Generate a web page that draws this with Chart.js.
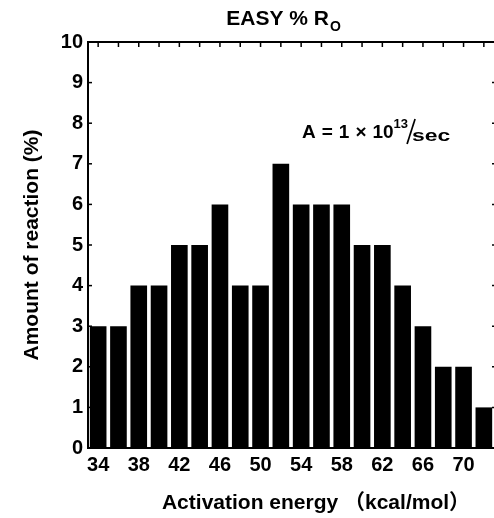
<!DOCTYPE html>
<html lang="en">
<head>
<meta charset="UTF-8">
<title>EASY %Ro</title>
<script src="https://cdn.jsdelivr.net/npm/chart.js@4.4.3/dist/chart.umd.min.js"></script>
<style>
  html, body { margin: 0; padding: 0; background: #fff; }
  #wrap { width: 494px; height: 518px; }
</style>
</head>
<body>
<div id="wrap"><canvas id="easyChart" width="494" height="518"></canvas></div>
<script>
// activation energies (kcal/mol) and the share of reaction at each one
const energies = [34, 36, 38, 40, 42, 44, 46, 48, 50, 52, 54, 56, 58, 60, 62, 64, 66, 68, 70, 72];
const reactionPct = [3, 3, 4, 4, 5, 5, 6, 4, 4, 7, 6, 6, 6, 5, 5, 4, 3, 2, 2, 1];
const yTicks = [0, 1, 2, 3, 4, 5, 6, 7, 8, 9, 10];

const FONT = "'Liberation Sans', Arial, Helvetica, 'Noto Sans CJK JP', sans-serif";

function seg(ctx, x1, y1, x2, y2) {
    ctx.beginPath();
    ctx.moveTo(x1, y1);
    ctx.lineTo(x2, y2);
    ctx.stroke();
}

// frame lines, inward ticks and the text pieces with sub/superscripts
const frameAndText = {
    id: 'frameAndText',
    afterDraw(chart) {
        const { ctx, chartArea: a, scales: { x, y } } = chart;
        ctx.save();
        ctx.strokeStyle = '#000';
        ctx.fillStyle = '#000';

        // top axis line
        ctx.lineWidth = 2;
        seg(ctx, a.left - 1, a.top, a.right, a.top);

        ctx.lineWidth = 1.5;
        // left ticks pointing into the plot
        yTicks.forEach(v => {
            const py = y.getPixelForValue(v);
            seg(ctx, a.left, py, a.left + 4, py);
        });
        // top ticks at every bar
        energies.forEach((e, i) => {
            const px = x.getPixelForValue(i);
            seg(ctx, px, a.top, px, a.top + 5);
        });
        // right-hand ticks
        yTicks.forEach(v => {
            const py = y.getPixelForValue(v);
            seg(ctx, a.right - 2, py, a.right, py);
        });

        ctx.textBaseline = 'alphabetic';
        ctx.textAlign = 'left';

        // title: EASY % R with subscript O
        ctx.font = 'bold 21px ' + FONT;
        const tMain = 'EASY % R';
        const wMain = ctx.measureText(tMain).width;
        ctx.font = 'bold 14px ' + FONT;
        const wSub = ctx.measureText('O').width;
        const tx = 283 - (wMain + wSub) / 2;
        ctx.font = 'bold 21px ' + FONT;
        ctx.fillText(tMain, tx, 25);
        ctx.font = 'bold 14px ' + FONT;
        ctx.fillText('O', tx + wMain + 1, 31);

        // rate constant note: A = 1 x 10^13 /sec
        let ax = 302;
        const base = 138;
        ctx.font = 'bold 19px ' + FONT;
        ['A', '=', '1', '\u00d7', '10'].forEach((p, i) => {
            ctx.fillText(p, ax, base);
            ax += ctx.measureText(p).width + (i < 4 ? 6 : 0);
        });
        ctx.font = 'bold 13px ' + FONT;
        ctx.fillText('13', ax, base - 10);
        ax += ctx.measureText('13').width - 3;
        ctx.lineWidth = 1.7;
        seg(ctx, ax + 10, 119, ax + 2, 144);
        ax += 7;
        ctx.font = 'bold 17px ' + FONT;
        ctx.save();
        ctx.translate(ax, base + 3);
        ctx.scale(1.35, 1);
        ctx.fillText('sec', 0, 0);
        ctx.restore();

        // x axis title
        ctx.font = 'bold 21px ' + FONT;
        ctx.textAlign = 'center';
        ctx.textBaseline = 'middle';
        ctx.fillText('Activation energy \uff08kcal/mol\uff09', 316, 503);

        ctx.restore();
    }
};

new Chart(document.getElementById('easyChart'), {
    type: 'bar',
    data: {
        labels: energies,
        datasets: [{
            data: reactionPct,
            backgroundColor: '#000',
            borderWidth: 0,
            barPercentage: 0.82,
            categoryPercentage: 1.0
        }]
    },
    options: {
        responsive: false,
        devicePixelRatio: 1,
        animation: false,
        layout: { padding: { top: 42, right: 0, bottom: 0, left: 0 } },
        plugins: {
            legend: { display: false },
            tooltip: { enabled: false }
        },
        scales: {
            x: {
                grid: { display: false, drawTicks: false },
                border: { display: true, color: '#000', width: 2 },
                ticks: {
                    autoSkip: false,
                    maxRotation: 0,
                    padding: 5,
                    color: '#000',
                    font: { family: FONT, size: 20, weight: 'bold' },
                    callback: (v, i) => (i % 2 === 0 ? energies[i] : '')
                },
                afterFit: s => { s.height = 70; }
            },
            y: {
                min: 0,
                max: 10,
                grid: { display: false, drawTicks: false },
                border: { display: true, color: '#000', width: 2 },
                ticks: {
                    stepSize: 1,
                    padding: 5,
                    color: '#000',
                    font: { family: FONT, size: 20, weight: 'bold' }
                },
                title: {
                    display: true,
                    text: 'Amount of reaction (%)',
                    color: '#000',
                    font: { family: FONT, size: 21, weight: 'bold' },
                    padding: { top: 20, bottom: 0 }
                },
                afterFit: s => { s.width = 88; }
            }
        }
    },
    plugins: [frameAndText]
});
</script>
</body>
</html>
